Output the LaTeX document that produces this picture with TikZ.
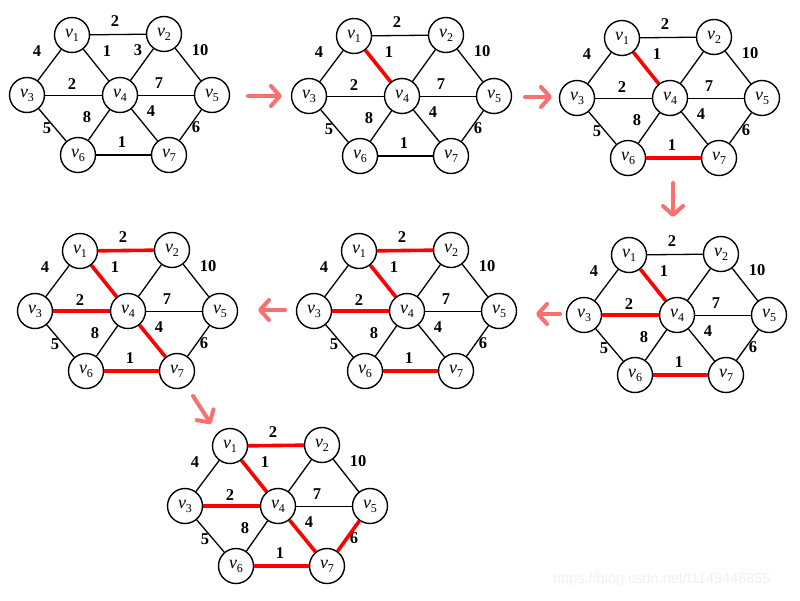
\documentclass[tikz,border=0pt]{standalone}
\usepackage{fontspec}
\setmainfont{Liberation Serif}
\setsansfont{Liberation Sans}
\usetikzlibrary{arrows.meta}
\definecolor{flow}{RGB}{248,112,112}
\tikzset{
  vtx/.style={circle,draw,line width=1.4pt,minimum size=35pt,inner sep=0pt,font=\fontsize{18}{20}\selectfont},
  edge/.style={line width=1.3pt},
  thinedge/.style={line width=0.9pt},
  mst/.style={red,line width=3.6pt},
  wt/.style={font=\fontsize{16.5}{18}\selectfont\bfseries,inner sep=0pt},
  flowarrow/.style={flow,line width=4pt,line cap=round,line join=round,-{Straight Barb[length=9pt,width=20pt,round]}}
}
\newcommand{\vx}[1]{\textit{v}\raisebox{-4pt}{\fontsize{12}{13}\selectfont#1}}
% one copy of the graph, v4 at #2
\newcommand{\mstgraph}[2]{%
  \begin{scope}[shift={(#2)}]
    \node[vtx](#1v1)at(-48,-60){\vx1};
    \node[vtx](#1v2)at(44,-61){\vx2};
    \node[vtx](#1v3)at(-93,0){\vx3};
    \node[vtx](#1v4)at(0,0){\vx4};
    \node[vtx](#1v5)at(92,0){\vx5};
    \node[vtx](#1v6)at(-42,60){\vx6};
    \node[vtx](#1v7)at(49,60){\vx7};
    \foreach \a/\b in {1/2,1/3,1/4,2/4,2/5,3/6,4/6,4/7,5/7}
      \draw[edge](#1v\a)--(#1v\b);
    \draw[thinedge](#1v3)--(#1v4) (#1v4)--(#1v5);
    \draw[edge,line width=1.8pt](#1v6)--(#1v7);
    \foreach \w/\p [count=\i] in {2/{-5,-74},4/{-83,-44},1/{-13,-44},10/{80,-45},2/{-48,-11},7/{39,-12},5/{-73,33},8/{-33,22},4/{31,16},6/{76,32},1/{2,47}}
      \node[wt](#1w\i)at(\p){\w};
  \end{scope}
}

\begin{document}
\begin{tikzpicture}[x=1pt,y=-1pt]
  \useasboundingbox(0,0)rectangle(800,600);
  \mstgraph{a}{120,95}
  \node[wt](aw3)at(138,50){3};
  \mstgraph{b}{402,96}
  \draw[mst](bv1)--(bv4);
  \mstgraph{c}{670,98}
  \draw[mst](cv1)--(cv4) (cv6)--(cv7);
  \mstgraph{d}{677,315}
  \draw[mst](dv1)--(dv4) (dv6)--(dv7) (dv3)--(dv4);
  \mstgraph{e}{407,311}
  \draw[mst](ev1)--(ev4) (ev6)--(ev7) (ev3)--(ev4) (ev1)--(ev2);
  \mstgraph{f}{128,311}
  \draw[mst](fv1)--(fv4) (fv6)--(fv7) (fv3)--(fv4) (fv1)--(fv2) (fv4)--(fv7);
  \mstgraph{g}{278,506}
  \draw[mst](gv1)--(gv4) (gv6)--(gv7) (gv3)--(gv4) (gv1)--(gv2) (gv4)--(gv7) (gv5)--(gv7);
  % steps
  \coordinate(s1a)at(248,96);  \coordinate(s1b)at(282,96);
  \coordinate(s2a)at(525,97);  \coordinate(s2b)at(552,97);
  \coordinate(s3a)at(673,183); \coordinate(s3b)at(673,217);
  \coordinate(s4a)at(560,314); \coordinate(s4b)at(536,314);
  \coordinate(s5a)at(285,310); \coordinate(s5b)at(258,310);
  \coordinate(s6a)at(193,396); \coordinate(s6b)at(211,424);
  \foreach \s in {1,...,6}
    \draw[flowarrow](s\s a)--(s\s b);
  \node[font=\sffamily\fontsize{14.5}{16}\selectfont,text=black!6,anchor=west,inner sep=0pt](mark)at(553,580){https://blog.csdn.net/f1149446855};
\end{tikzpicture}
\end{document}
